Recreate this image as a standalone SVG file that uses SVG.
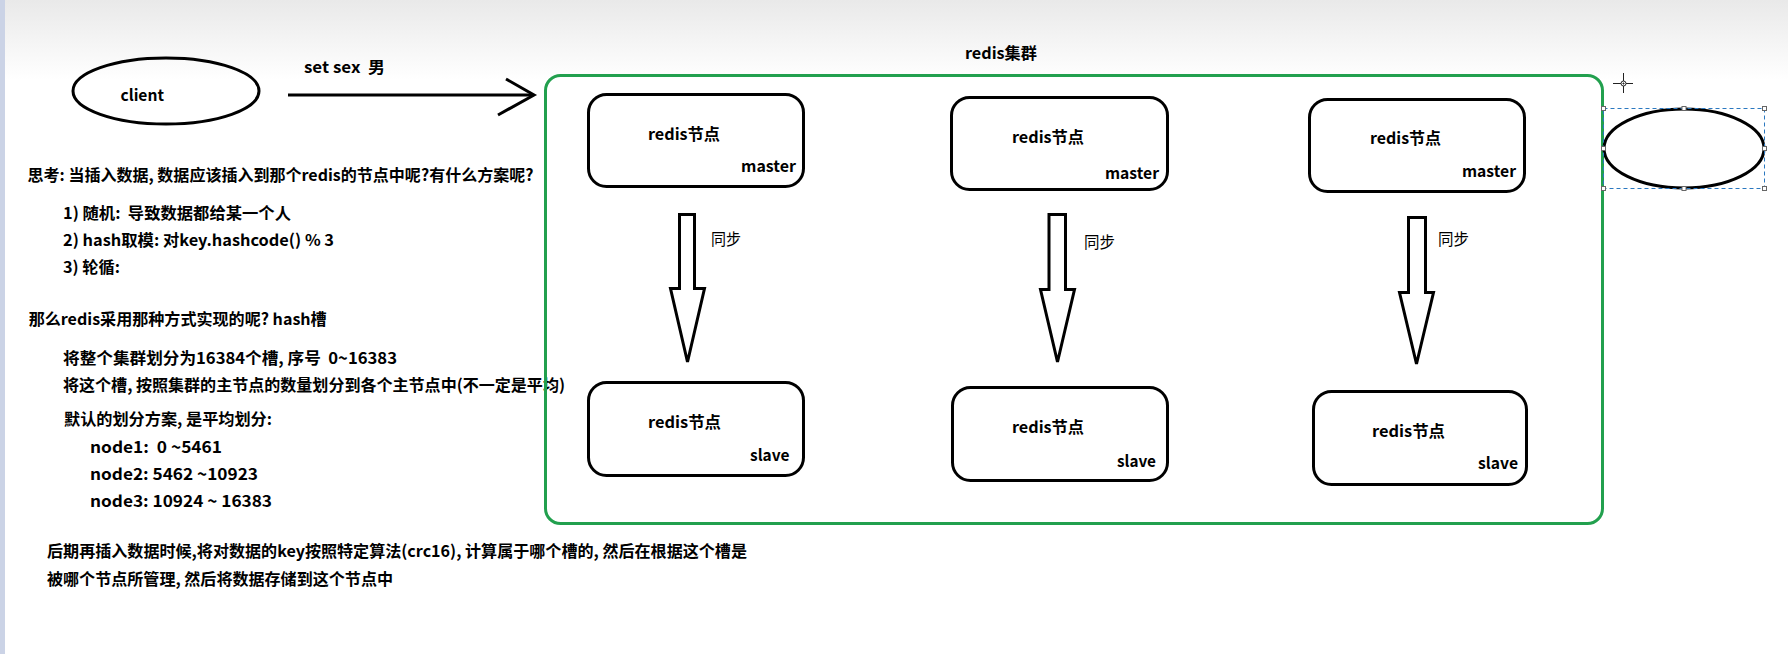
<svg xmlns="http://www.w3.org/2000/svg" width="1788" height="654" viewBox="0 0 1788 654">
<defs>
<linearGradient id="topfade" x1="0" y1="0" x2="0" y2="1">
<stop offset="0" stop-color="#e9e9e9"/>
<stop offset="1" stop-color="#ffffff"/>
</linearGradient>
</defs>
<style>
text{font-family:"Noto Sans CJK SC","Noto Sans",sans-serif;font-size:16px;font-weight:700;fill:#000;white-space:pre}
.reg{font-weight:400}
.box{fill:#fff;stroke:#000;stroke-width:3}
.blk{fill:#fff;stroke:#000;stroke-width:3;stroke-linejoin:miter}
.ln{fill:none;stroke:#000;stroke-width:3}
.cluster{fill:none;stroke:#22a04e;stroke-width:3}
.sel{fill:none;stroke:#2b78c0;stroke-width:1;stroke-dasharray:4 3}
.hdl{fill:#fff;stroke:#666;stroke-width:1}
</style>
<rect x="0" y="0" width="1788" height="654" fill="#fff"/>
<rect x="0" y="0" width="1788" height="80" fill="url(#topfade)"/>
<rect x="0" y="0" width="5" height="654" fill="#cbd3e6"/>

<g id="notes" xml:space="preserve">
<text x="27.5" y="181" textLength="506" lengthAdjust="spacingAndGlyphs">思考: 当插入数据, 数据应该插入到那个redis的节点中呢?有什么方案呢?</text>
<text x="63" y="219" textLength="228" lengthAdjust="spacingAndGlyphs">1) 随机:  导致数据都给某一个人</text>
<text x="63" y="246" textLength="271" lengthAdjust="spacingAndGlyphs">2) hash取模: 对key.hashcode() % 3</text>
<text x="63" y="273" textLength="57" lengthAdjust="spacingAndGlyphs">3) 轮循:</text>
<text x="28.7" y="325" textLength="298" lengthAdjust="spacingAndGlyphs">那么redis采用那种方式实现的呢? hash槽</text>
<text x="63" y="364" textLength="334" lengthAdjust="spacingAndGlyphs">将整个集群划分为16384个槽, 序号  0~16383</text>
<text x="63" y="391" textLength="502" lengthAdjust="spacingAndGlyphs">将这个槽, 按照集群的主节点的数量划分到各个主节点中(不一定是平均)</text>
<text x="64" y="425" textLength="208" lengthAdjust="spacingAndGlyphs">默认的划分方案, 是平均划分:</text>
<text x="90" y="453" textLength="132" lengthAdjust="spacingAndGlyphs">node1:  0 ~5461</text>
<text x="90" y="480" textLength="168" lengthAdjust="spacingAndGlyphs">node2: 5462 ~10923</text>
<text x="90" y="507" textLength="182" lengthAdjust="spacingAndGlyphs">node3: 10924 ~ 16383</text>
<text x="47" y="557" textLength="700" lengthAdjust="spacingAndGlyphs">后期再插入数据时候,将对数据的key按照特定算法(crc16), 计算属于哪个槽的, 然后在根据这个槽是</text>
<text x="47" y="585" textLength="346" lengthAdjust="spacingAndGlyphs">被哪个节点所管理, 然后将数据存储到这个节点中</text>
</g>

<g id="client">
<ellipse cx="166" cy="91" rx="93" ry="33" class="ln"/>
<text x="120.5" y="101" textLength="43.5" lengthAdjust="spacingAndGlyphs">client</text>
</g>

<g id="cluster">
<rect x="545.5" y="75.5" width="1057" height="448" rx="15" class="cluster"/>
<text x="965" y="59" textLength="72" lengthAdjust="spacingAndGlyphs">redis集群</text>
</g>

<g id="master1">
<rect x="588.5" y="94.5" width="215" height="92" rx="18" class="box"/>
<text x="648" y="140" textLength="72" lengthAdjust="spacingAndGlyphs">redis节点</text>
<text x="741" y="172" textLength="55" lengthAdjust="spacingAndGlyphs">master</text>
</g>
<g id="master2">
<rect x="951.5" y="97.5" width="216" height="92" rx="18" class="box"/>
<text x="1012" y="143" textLength="72" lengthAdjust="spacingAndGlyphs">redis节点</text>
<text x="1105" y="179" textLength="54" lengthAdjust="spacingAndGlyphs">master</text>
</g>
<g id="master3">
<rect x="1309.5" y="99.5" width="215" height="92" rx="18" class="box"/>
<text x="1370" y="144" textLength="71" lengthAdjust="spacingAndGlyphs">redis节点</text>
<text x="1462" y="177" textLength="54" lengthAdjust="spacingAndGlyphs">master</text>
</g>
<g id="slave1">
<rect x="588.5" y="382.5" width="215" height="93" rx="18" class="box"/>
<text x="648" y="428" textLength="73" lengthAdjust="spacingAndGlyphs">redis节点</text>
<text x="750" y="461" textLength="39.5" lengthAdjust="spacingAndGlyphs">slave</text>
</g>
<g id="slave2">
<rect x="952.5" y="387.5" width="215" height="93" rx="18" class="box"/>
<text x="1012" y="433" textLength="72" lengthAdjust="spacingAndGlyphs">redis节点</text>
<text x="1117" y="467" textLength="39" lengthAdjust="spacingAndGlyphs">slave</text>
</g>
<g id="slave3">
<rect x="1313.5" y="391.5" width="213" height="93" rx="18" class="box"/>
<text x="1372" y="437" textLength="73" lengthAdjust="spacingAndGlyphs">redis节点</text>
<text x="1478" y="469" textLength="40" lengthAdjust="spacingAndGlyphs">slave</text>
</g>

<g id="shape">
<ellipse cx="1684" cy="148.5" rx="80" ry="39.5" class="ln"/>
<rect x="1603.5" y="108.5" width="161" height="80" class="sel"/>
<rect x="1601.5" y="106.5" width="4" height="4" class="hdl"/>
<rect x="1682" y="106.5" width="4" height="4" class="hdl"/>
<rect x="1762.5" y="106.5" width="4" height="4" class="hdl"/>
<rect x="1601.5" y="146.5" width="4" height="4" class="hdl"/>
<rect x="1762.5" y="146.5" width="4" height="4" class="hdl"/>
<rect x="1601.5" y="186.5" width="4" height="4" class="hdl"/>
<rect x="1682" y="186.5" width="4" height="4" class="hdl"/>
<rect x="1762.5" y="186.5" width="4" height="4" class="hdl"/>
</g>

<g id="cursor" stroke="#222" stroke-width="1" fill="none">
<line x1="1613" y1="83.5" x2="1633" y2="83.5"/>
<line x1="1623.5" y1="73" x2="1623.5" y2="93"/>
<circle cx="1623.5" cy="83.5" r="2.5" fill="#fff"/>
<circle cx="1623.5" cy="83.5" r="0.6" fill="#222"/>
</g>

<g id="connectors">
<line x1="288" y1="95" x2="533" y2="95" class="ln"/>
<polyline points="506,79 534,95 498,115" class="ln"/>
<polygon points="679.5,214.5 694.5,214.5 694.5,288.5 704.5,288.5 687.5,362 670.5,288.5 679.5,288.5" class="blk"/>
<polygon points="1049,214.5 1065.5,214.5 1065.5,289.5 1074.5,289.5 1057.5,362 1040.5,289.5 1049,289.5" class="blk"/>
<polygon points="1408.5,217.5 1425.5,217.5 1425.5,292.5 1433.5,292.5 1416.5,364 1399.5,292.5 1408.5,292.5" class="blk"/>
<text x="304" y="73" textLength="81" lengthAdjust="spacingAndGlyphs" xml:space="preserve">set sex  男</text>
<text class="reg" x="711" y="245" textLength="30" lengthAdjust="spacingAndGlyphs">同步</text>
<text class="reg" x="1084" y="248" textLength="31" lengthAdjust="spacingAndGlyphs">同步</text>
<text class="reg" x="1438" y="245" textLength="31" lengthAdjust="spacingAndGlyphs">同步</text>
</g>
</svg>
